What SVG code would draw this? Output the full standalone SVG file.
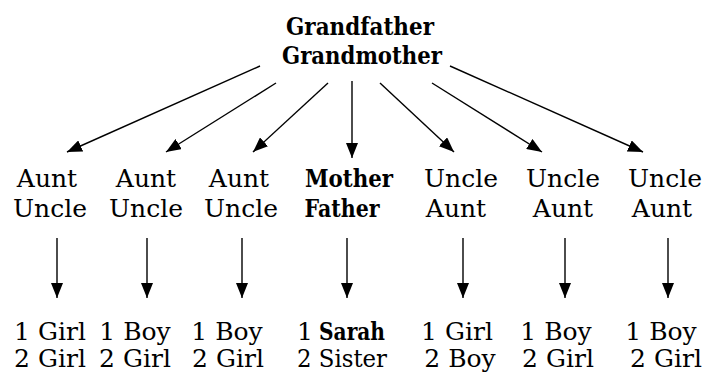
<svg xmlns="http://www.w3.org/2000/svg" width="713" height="374" viewBox="0 0 713 374">
<defs>
<style>
text{font-family:"DejaVu Serif","Liberation Serif",serif;font-size:25px;fill:#000;text-anchor:middle}
.b{font-weight:bold}
.s{text-anchor:start}
.e{stroke:#000;stroke-width:1.4;fill:none;marker-end:url(#ah)}
</style>
<marker id="ah" markerUnits="userSpaceOnUse" viewBox="0 0 15 12" refX="15" refY="6" markerWidth="15" markerHeight="12" orient="auto">
<path d="M0,0 L15,6 L0,12 z" fill="#000"/>
</marker>
</defs>
<rect width="713" height="374" fill="#fff"/>
<g id="connectors">
<line class="e" x1="260" y1="66" x2="67" y2="152"/>
<line class="e" x1="276" y1="83" x2="166" y2="152"/>
<line class="e" x1="328" y1="83" x2="253" y2="152"/>
<line class="e" x1="352" y1="81" x2="352" y2="158"/>
<line class="e" x1="380" y1="83" x2="454" y2="152"/>
<line class="e" x1="432" y1="83" x2="542" y2="152"/>
<line class="e" x1="450" y1="66" x2="643" y2="152"/>
<line class="e" x1="57" y1="238" x2="57" y2="298"/>
<line class="e" x1="147" y1="238" x2="147" y2="298"/>
<line class="e" x1="242" y1="238" x2="242" y2="298"/>
<line class="e" x1="347" y1="238" x2="347" y2="298"/>
<line class="e" x1="463" y1="238" x2="463" y2="298"/>
<line class="e" x1="565" y1="238" x2="565" y2="298"/>
<line class="e" x1="668" y1="238" x2="668" y2="298"/>
</g>
<g id="grandparents">
<text class="b" x="360" y="35" textLength="148" lengthAdjust="spacingAndGlyphs">Grandfather</text>
<text class="b" x="362" y="64" textLength="160" lengthAdjust="spacingAndGlyphs">Grandmother</text>
</g>
<g id="family1"><text x="47" y="187">Aunt</text><text x="50" y="217">Uncle</text></g>
<g id="family2"><text x="146" y="187">Aunt</text><text x="146" y="217">Uncle</text></g>
<g id="family3"><text x="239" y="187">Aunt</text><text x="241" y="217">Uncle</text></g>
<g id="family4"><text class="b" x="349" y="187" textLength="88" lengthAdjust="spacingAndGlyphs">Mother</text><text class="b" x="342" y="217" textLength="75" lengthAdjust="spacingAndGlyphs">Father</text></g>
<g id="family5"><text x="461" y="187">Uncle</text><text x="456" y="217">Aunt</text></g>
<g id="family6"><text x="563" y="187">Uncle</text><text x="563" y="217">Aunt</text></g>
<g id="family7"><text x="665" y="187">Uncle</text><text x="662" y="217">Aunt</text></g>
<g id="children1"><text x="50" y="340">1 Girl</text><text x="50" y="367">2 Girl</text></g>
<g id="children2"><text x="135" y="340">1 Boy</text><text x="135" y="367">2 Girl</text></g>
<g id="children3"><text x="227" y="340">1 Boy</text><text x="228" y="367">2 Girl</text></g>
<g id="children4"><text class="s" x="297" y="340">1</text><text class="b s" x="319" y="340" textLength="66" lengthAdjust="spacingAndGlyphs">Sarah</text><text x="342" y="367" textLength="90" lengthAdjust="spacingAndGlyphs">2 Sister</text></g>
<g id="children5"><text x="457" y="340">1 Girl</text><text x="460" y="367">2 Boy</text></g>
<g id="children6"><text x="556" y="340">1 Boy</text><text x="558" y="367">2 Girl</text></g>
<g id="children7"><text x="661" y="340">1 Boy</text><text x="666" y="367">2 Girl</text></g>
</svg>
